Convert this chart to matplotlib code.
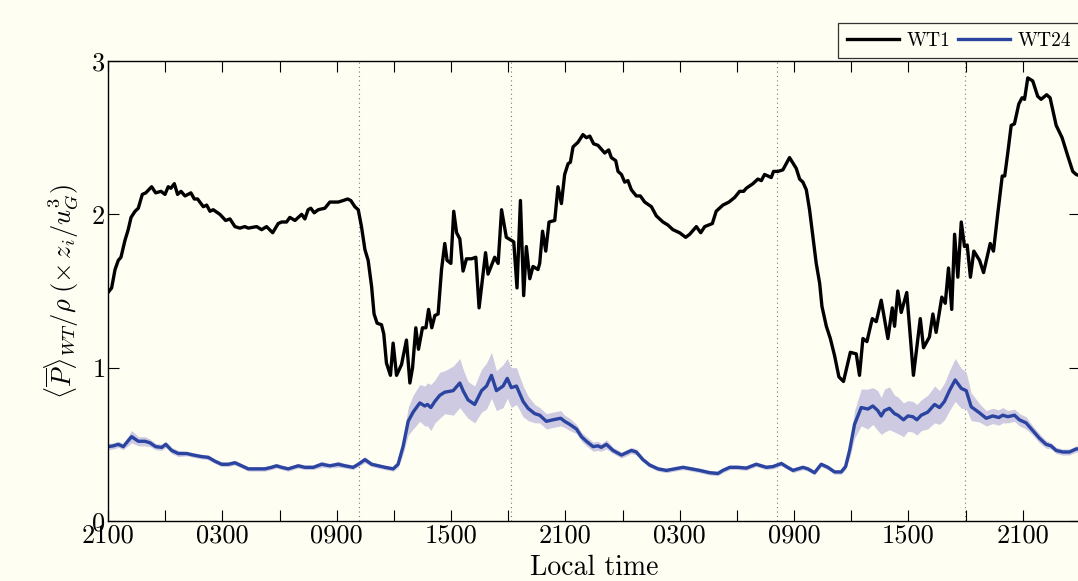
import numpy as np
import matplotlib
matplotlib.use("Agg")
import matplotlib.pyplot as plt

plt.rcParams['font.family'] = ['cmr10', 'DejaVu Serif']
plt.rcParams['mathtext.fontset'] = 'cm'
plt.rcParams['axes.formatter.use_mathtext'] = True

# hours since 2100 on day 1
wt1_t = [0.00, 0.19, 0.37, 0.54, 0.68, 0.89, 1.06, 1.21, 1.42, 1.59, 1.80, 1.98, 2.29, 2.50, 2.78,
         2.99, 3.16, 3.30, 3.48, 3.65, 3.83, 4.04, 4.35, 4.53, 4.70, 5.00, 5.18, 5.35, 5.52, 5.87,
         6.17, 6.40, 6.66, 6.92, 7.18, 7.36, 7.80, 8.06, 8.32, 8.64, 8.93, 9.11, 9.37, 9.54, 9.81,
         10.16, 10.33, 10.50, 10.64, 10.82, 11.03, 11.38, 11.64, 12.08, 12.34, 12.57, 12.74, 12.95,
         13.13, 13.30, 13.48, 13.65, 13.83, 13.96, 14.12, 14.35, 14.47, 14.61, 14.82, 14.96, 15.14,
         15.40, 15.66, 15.84, 15.98, 16.15, 16.29, 16.50, 16.68, 16.82, 16.99, 17.15, 17.32, 17.50,
         17.67, 17.79, 17.99, 18.14, 18.29, 18.46, 18.63, 18.81, 19.07, 19.30, 19.47, 19.81, 19.94,
         20.29, 20.47, 20.65, 20.90, 21.17, 21.29, 21.46, 21.64, 21.81, 21.95, 22.13, 22.30, 22.56,
         22.65, 22.80, 22.97, 23.14, 23.44, 23.61, 23.79, 23.96, 24.14, 24.26, 24.40, 24.66, 24.92,
         25.10, 25.28, 25.48, 25.71, 26.06, 26.27, 26.41, 26.64, 26.76, 26.94, 27.11, 27.28, 27.46,
         27.72, 27.93, 28.16, 28.51, 28.77, 29.12, 29.38, 29.64, 29.99, 30.31, 30.52, 30.87, 31.10,
         31.31, 31.71, 31.91, 32.26, 32.58, 32.88, 33.14, 33.35, 33.49, 33.84, 34.10, 34.28, 34.45,
         34.80, 34.92, 35.15, 35.41, 35.76, 36.11, 36.29, 36.46, 36.64, 36.81, 36.99, 37.16, 37.34,
         37.46, 37.69, 37.90, 38.12, 38.35, 38.59, 38.95, 39.26, 39.43, 39.61, 39.82, 40.10, 40.31,
         40.57, 40.92, 41.15, 41.27, 41.44, 41.62, 41.91, 42.26, 42.62, 42.79, 43.10, 43.28, 43.45,
         43.75, 43.93, 44.10, 44.27, 44.42, 44.59, 44.77, 44.94, 45.08, 45.25, 45.43, 45.73, 45.94,
         46.29, 46.46, 46.69, 46.92, 47.05, 47.21, 47.39, 47.56, 47.79, 47.96, 48.09, 48.26, 48.52,
         48.78, 48.96, 49.25, 49.43, 49.75, 50.06, 50.36, 50.62, 50.80, 51.00]
wt1_p = [1.49, 1.52, 1.64, 1.70, 1.72, 1.83, 1.90, 1.98, 2.02, 2.04, 2.13, 2.14, 2.18, 2.14, 2.15,
         2.13, 2.18, 2.17, 2.20, 2.13, 2.15, 2.12, 2.14, 2.10, 2.10, 2.05, 2.06, 2.02, 2.03, 2.00,
         1.96, 1.97, 1.92, 1.91, 1.92, 1.91, 1.92, 1.90, 1.92, 1.88, 1.94, 1.95, 1.95, 1.98, 1.96,
         2.00, 1.97, 2.03, 2.04, 2.01, 2.03, 2.04, 2.08, 2.08, 2.09, 2.10, 2.09, 2.05,
         2.03, 1.92, 1.77, 1.70, 1.53, 1.35, 1.29, 1.28, 1.22, 1.03, 0.95, 1.16, 0.95,
         1.02, 1.18, 0.90, 1.00, 1.26, 1.12, 1.26, 1.26, 1.38, 1.26, 1.34, 1.35, 1.64,
         1.81, 1.70, 1.68, 2.02, 1.88, 1.84, 1.63, 1.71, 1.71, 1.72, 1.39, 1.75, 1.61,
         1.72, 1.68, 2.03, 1.85, 1.83, 1.82, 1.52, 2.09, 1.47, 1.79, 1.58, 1.66, 1.64,
         1.68, 1.89, 1.76, 1.95, 1.96, 2.18, 2.07, 2.26, 2.33, 2.34, 2.44, 2.47, 2.52,
         2.50, 2.51, 2.46, 2.45, 2.40, 2.42, 2.37, 2.35, 2.28, 2.26, 2.21, 2.22, 2.16,
         2.12, 2.12, 2.08, 2.05, 1.99, 1.95, 1.93, 1.90, 1.88, 1.85, 1.87, 1.92, 1.88,
         1.92, 1.94, 2.02, 2.06, 2.08, 2.11, 2.15, 2.15, 2.17, 2.20, 2.23, 2.22, 2.26,
         2.24, 2.28, 2.28, 2.29, 2.37, 2.30, 2.23, 2.21, 2.16, 2.03, 1.85, 1.68, 1.55,
         1.40, 1.27, 1.19, 1.08, 0.94, 0.91, 1.10, 1.09, 0.95, 1.19, 1.17, 1.32, 1.30,
         1.44, 1.19, 1.39, 1.27, 1.50, 1.36, 1.49, 0.95, 1.32, 1.13, 1.20, 1.35, 1.23,
         1.46, 1.42, 1.65, 1.38, 1.87, 1.59, 1.95, 1.79, 1.80, 1.59, 1.76, 1.70, 1.62,
         1.81, 1.76, 2.01, 2.25, 2.25, 2.40, 2.58, 2.59, 2.72, 2.76, 2.75, 2.89, 2.87,
         2.77, 2.75, 2.78, 2.76, 2.58, 2.50, 2.38, 2.28, 2.26, 2.25]

wt24_t = [0.02, 0.28, 0.54, 0.80, 1.24, 1.59, 1.94, 2.20, 2.50, 2.82, 3.03, 3.34, 3.69, 4.13, 4.48,
          4.91, 5.26, 5.61, 5.96, 6.31, 6.66, 7.01, 7.36, 7.80, 8.23, 8.58, 8.84, 9.11, 9.45, 9.98,
          10.33, 10.77, 11.21, 11.64, 12.08, 12.43, 12.86, 13.13, 13.48, 13.83, 14.17, 14.53, 14.96,
          15.22, 15.48, 15.75, 16.01, 16.36, 16.62, 16.76, 16.94, 17.15, 17.41, 17.67, 18.11, 18.46,
          18.63, 18.89, 19.24, 19.60, 19.86, 20.12, 20.38, 20.73, 20.95, 21.16, 21.43, 21.78, 22.04,
          22.39, 22.65, 23.00, 23.35, 23.75, 23.96, 24.23, 24.58, 24.84, 25.10, 25.45, 25.71, 25.88,
          26.15, 26.50, 26.94, 27.46, 27.72, 28.07, 28.42, 28.86, 29.30, 29.73, 30.17, 30.61, 31.04,
          31.57, 32.00, 32.26, 32.62, 33.05, 33.49, 34.01, 34.54, 34.89, 35.33, 35.59, 35.94, 36.46,
          36.72, 37.07, 37.42, 37.77, 38.12, 38.47, 38.70, 38.91, 39.17, 39.52, 39.87, 40.13, 40.39,
          40.57, 40.74, 41.00, 41.27, 41.44, 41.74, 41.97, 42.23, 42.44, 42.67, 43.01, 43.37, 43.63,
          43.89, 44.15, 44.45, 44.77, 45.03, 45.29, 45.73, 46.08, 46.42, 46.74, 46.95, 47.21, 47.56,
          47.82, 48.17, 48.52, 48.87, 49.22, 49.48, 49.75, 50.09, 50.45, 50.80, 51.00]
wt24_p = [0.485, 0.49, 0.50, 0.485, 0.55, 0.52, 0.52, 0.51, 0.485, 0.48, 0.50, 0.46, 0.44, 0.44, 0.43,
          0.42, 0.415, 0.39, 0.37, 0.37, 0.38, 0.36, 0.34, 0.34, 0.34, 0.35, 0.36, 0.35, 0.34, 0.36,
          0.35, 0.35, 0.37, 0.36, 0.37, 0.36, 0.35, 0.37, 0.40, 0.37, 0.36, 0.35, 0.34,
          0.37, 0.485, 0.65, 0.71, 0.77, 0.75, 0.76, 0.74, 0.78, 0.82, 0.84, 0.85, 0.90,
          0.85, 0.79, 0.76, 0.85, 0.88, 0.95, 0.85, 0.88, 0.93, 0.87, 0.88, 0.78, 0.735,
          0.70, 0.69, 0.65, 0.66, 0.67, 0.65, 0.63, 0.60, 0.55, 0.52, 0.485, 0.49, 0.48,
          0.50, 0.46, 0.43, 0.46, 0.45, 0.40, 0.365, 0.34, 0.33, 0.34, 0.35, 0.34, 0.33,
          0.315, 0.31, 0.33, 0.35, 0.35, 0.345, 0.37, 0.35, 0.355, 0.375, 0.355, 0.33, 0.35,
          0.34, 0.315, 0.37, 0.35, 0.32, 0.32, 0.355, 0.46, 0.63, 0.74, 0.73, 0.75, 0.72,
          0.685, 0.72, 0.735, 0.70, 0.69, 0.66, 0.685, 0.68, 0.66, 0.69, 0.71, 0.76, 0.74,
          0.78, 0.85, 0.92, 0.865, 0.85, 0.745, 0.705, 0.67, 0.685, 0.675, 0.69, 0.68, 0.69,
          0.66, 0.64, 0.59, 0.54, 0.50, 0.49, 0.46, 0.45, 0.45, 0.47, 0.47]
# half-width of the shaded spread around WT24
wt24_s = [0.02, 0.02, 0.02, 0.02, 0.04, 0.03, 0.03, 0.025, 0.02, 0.02, 0.02, 0.02, 0.02, 0.015, 0.015,
          0.015, 0.015, 0.015, 0.015, 0.015, 0.015, 0.015, 0.015, 0.015, 0.015, 0.015, 0.015, 0.015, 0.015, 0.015,
          0.015, 0.015, 0.02, 0.015, 0.02, 0.015, 0.015, 0.015, 0.02, 0.015, 0.015, 0.015, 0.015,
          0.02, 0.05, 0.09, 0.11, 0.12, 0.13, 0.14, 0.15, 0.14, 0.15, 0.14, 0.16, 0.16,
          0.14, 0.12, 0.12, 0.14, 0.15, 0.15, 0.13, 0.14, 0.13, 0.13, 0.12, 0.10, 0.08,
          0.06, 0.05, 0.05, 0.05, 0.05, 0.04, 0.04, 0.03, 0.03, 0.03, 0.03, 0.03, 0.025,
          0.03, 0.02, 0.02, 0.02, 0.02, 0.015, 0.015, 0.015, 0.015, 0.015, 0.015, 0.015, 0.015,
          0.015, 0.015, 0.015, 0.015, 0.015, 0.015, 0.015, 0.015, 0.015, 0.015, 0.015, 0.015, 0.015,
          0.015, 0.015, 0.015, 0.015, 0.015, 0.015, 0.02, 0.05, 0.09, 0.12, 0.13, 0.12, 0.13,
          0.12, 0.14, 0.14, 0.12, 0.12, 0.11, 0.10, 0.10, 0.10, 0.10, 0.11, 0.12, 0.11,
          0.12, 0.13, 0.14, 0.13, 0.12, 0.09, 0.06, 0.05, 0.05, 0.05, 0.05, 0.04, 0.04,
          0.04, 0.04, 0.03, 0.03, 0.025, 0.02, 0.02, 0.02, 0.02, 0.02, 0.02]

# sunrise / sunset markers (hours since 2100)
sun_t = [13.16, 21.13, 35.08, 44.94]

tick_hours = list(range(0, 52, 3))
tick_labels = ['2100', '0300', '0900', '1500']

bg = '#fefef3'
fig = plt.figure(figsize=(10.78, 5.81), dpi=100, facecolor=bg)
ax = fig.add_axes([108 / 1078, 1 - 521 / 581, 972 / 1078, 460 / 581], facecolor=bg)

lo = np.array(wt24_p) - np.array(wt24_s)
hi = np.array(wt24_p) + np.array(wt24_s)
ax.fill_between(wt24_t, lo, hi, color='#cdcae2', lw=0, zorder=1)
for t in sun_t:
    ax.axvline(t, color='#777777', ls=(0, (1, 3)), lw=0.8, zorder=0)
ax.plot(wt1_t, wt1_p, color='black', lw=2.4, label=r'WT1', zorder=3)
ax.plot(wt24_t, wt24_p, color='#2a44a0', lw=2.4, label=r'WT24', zorder=2)

ax.set_xlim(0, 51)
ax.set_ylim(0, 3)
ax.set_xticks(tick_hours)
ax.set_xticklabels([tick_labels[(h // 6) % 4] if h % 6 == 0 else '' for h in tick_hours])
ax.set_yticks([0, 1, 2, 3])
ax.tick_params(direction='in', length=8, width=0.8, top=True, right=True,
               labelsize=19, pad=2)
for s in ax.spines.values():
    s.set_linewidth(1.0)

ax.set_xlabel('Local time', fontsize=20, labelpad=5)
ax.set_ylabel(r'$\langle\overline{P}\rangle_{WT}/\rho\;(\times\, z_i/u_G^3)$', fontsize=19, labelpad=8)

leg = fig.legend(loc='upper left', bbox_to_anchor=(838 / 1078, 1 - 23 / 581), ncol=2,
                 fontsize=14, frameon=True, fancybox=False, edgecolor='black',
                 borderaxespad=0, handlelength=2.7, columnspacing=0.4, handletextpad=0.36,
                 borderpad=0.45)
leg.get_frame().set_linewidth(0.9)
leg.get_frame().set_facecolor(bg)

fig.savefig('out.png', dpi=100, facecolor=bg)
